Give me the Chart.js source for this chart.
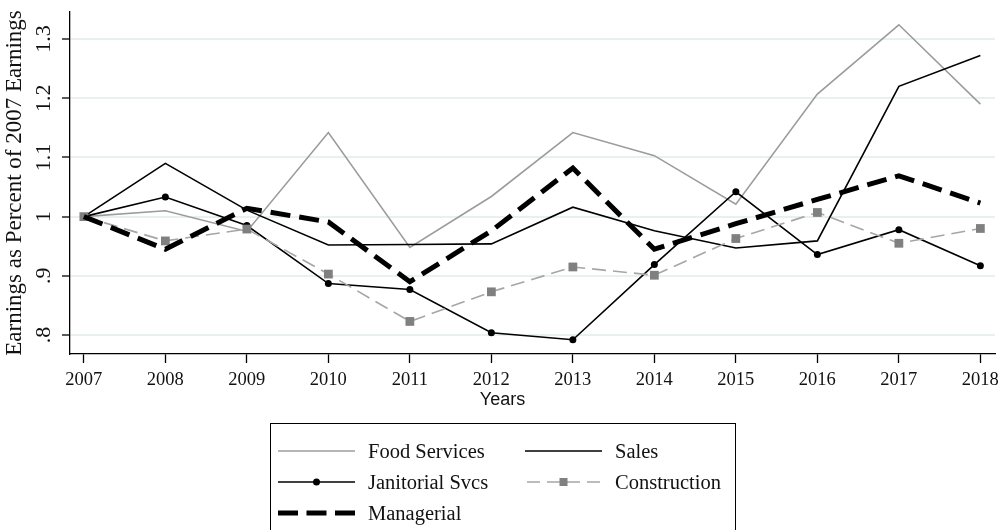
<!DOCTYPE html>
<html>
<head>
<meta charset="utf-8">
<script src="https://cdn.jsdelivr.net/npm/chart.js@4.4.1/dist/chart.umd.min.js"></script>
<style>
  html, body { margin: 0; padding: 0; background: #fff; overflow: hidden; }
  #wrap { position: relative; width: 1005px; height: 530px; }
  #legend {
    position: absolute; left: 270px; top: 423px; width: 466px; height: 130px;
    border: 1px solid #000; box-sizing: border-box;
    font-family: 'Liberation Serif', 'Times New Roman', serif; font-size: 20.5px; color: #111;
  }
  .item { position: absolute; height: 30px; display: flex; align-items: center; }
  .item svg { margin-right: 13px; }
</style>
</head>
<body>
<div id="wrap">
  <canvas id="chart" width="1005" height="530"></canvas>
  <div id="legend"></div>
</div>
<script>
// data
const years = [2007, 2008, 2009, 2010, 2011, 2012, 2013, 2014, 2015, 2016, 2017, 2018];
const foodServices = [1.000, 1.010, 0.975, 1.142, 0.948, 1.034, 1.142, 1.103, 1.021, 1.207, 1.324, 1.190];
const sales        = [1.000, 1.090, 1.011, 0.952, 0.953, 0.954, 1.016, 0.976, 0.947, 0.959, 1.220, 1.272];
const janitorial   = [1.000, 1.033, 0.985, 0.887, 0.877, 0.804, 0.792, 0.919, 1.042, 0.936, 0.978, 0.917];
const construction = [1.000, 0.959, 0.979, 0.903, 0.823, 0.873, 0.915, 0.901, 0.963, 1.007, 0.955, 0.980];
const managerial   = [1.000, 0.945, 1.014, 0.991, 0.890, 0.976, 1.082, 0.945, 0.988, 1.029, 1.069, 1.023];
const yTicks = [0.8, 0.9, 1, 1.1, 1.2, 1.3];
const yTickLabels = ['.8', '.9', '1', '1.1', '1.2', '1.3'];

const SERIF = "'Liberation Serif', 'Times New Roman', serif";
const SANS = "'Liberation Sans', Arial, sans-serif";

const toPoints = vals => vals.map((v, i) => ({ x: years[i], y: v }));

// rotated y tick labels and the centred x title
const extras = {
  id: 'extras',
  afterDraw(chart) {
    const ctx = chart.ctx;
    const ys = chart.scales.y;
    ctx.save();
    ctx.fillStyle = '#111';
    ctx.font = '22px ' + SERIF;
    ctx.textAlign = 'center';
    ctx.textBaseline = 'alphabetic';
    yTicks.forEach((v, i) => {
      ctx.save();
      ctx.translate(50, ys.getPixelForValue(v));
      ctx.rotate(-Math.PI / 2);
      ctx.fillText(yTickLabels[i], 0, 0);
      ctx.restore();
    });
    ctx.font = '18px ' + SANS;
    ctx.textBaseline = 'middle';
    ctx.fillText('Years', 502.5, 400);
    ctx.restore();
  }
};

new Chart(document.getElementById('chart'), {
  type: 'line',
  data: {
    datasets: [
      { label: 'Food Services', data: toPoints(foodServices), borderColor: '#9c9c9c', borderWidth: 1.6, pointRadius: 0, order: 5 },
      { label: 'Sales', data: toPoints(sales), borderColor: '#000', borderWidth: 1.6, pointRadius: 0, order: 4 },
      { label: 'Janitorial Svcs', data: toPoints(janitorial), borderColor: '#000', borderWidth: 1.6,
        pointRadius: 3.5, pointBackgroundColor: '#000', pointBorderWidth: 0, order: 3 },
      { label: 'Construction', data: toPoints(construction), borderColor: '#a6a6a6', borderWidth: 1.6, borderDash: [14, 7],
        pointStyle: 'rect', pointRadius: 6.2, pointBackgroundColor: '#808080', pointBorderWidth: 0, order: 2 },
      { label: 'Managerial', data: toPoints(managerial), borderColor: '#000', borderWidth: 5, borderDash: [20, 9],
        pointRadius: 0, order: 1 }
    ]
  },
  options: {
    responsive: false,
    animation: false,
    devicePixelRatio: 1,
    layout: { padding: { top: 12, right: 8, left: 0, bottom: 119 } },
    elements: { line: { tension: 0, fill: false } },
    plugins: { legend: { display: false }, tooltip: { enabled: false } },
    scales: {
      x: {
        type: 'linear', min: 2006.83, max: 2018.18,
        afterBuildTicks: s => { s.ticks = years.map(v => ({ value: v })); },
        afterFit: s => { s.height = 57; },
        grid: { drawOnChartArea: false, drawTicks: true, tickLength: 9, tickColor: '#000', tickWidth: 1.3 },
        border: { display: true, color: '#000', width: 1.3 },
        ticks: { autoSkip: false, maxRotation: 0, color: '#111', padding: 6,
                 font: { family: SERIF, size: 18.5 }, callback: v => String(v) }
      },
      y: {
        min: 0.768, max: 1.3456,
        afterBuildTicks: s => { s.ticks = yTicks.map(v => ({ value: v })); },
        afterFit: s => { s.width = 70; },
        grid: { color: '#e8f0f2', lineWidth: 2, drawTicks: true, tickLength: 8, tickColor: '#000', tickWidth: 1.3 },
        border: { display: true, color: '#000', width: 1.3 },
        ticks: { display: false },
        title: { display: true, text: 'Earnings as Percent of 2007 Earnings', color: '#111',
                 font: { family: SERIF, size: 23 }, padding: { top: 1.5, bottom: 0 } }
      }
    }
  },
  plugins: [extras]
});

// legend as html, two columns like the reference
const legendItems = [
  { label: 'Food Services', col: 0, row: 0, svg: '<line x1="0" y1="10" x2="77" y2="10" stroke="#9c9c9c" stroke-width="1.6"/>' },
  { label: 'Sales', col: 1, row: 0, svg: '<line x1="0" y1="10" x2="77" y2="10" stroke="#000" stroke-width="1.6"/>' },
  { label: 'Janitorial Svcs', col: 0, row: 1, svg: '<line x1="0" y1="10" x2="77" y2="10" stroke="#000" stroke-width="1.6"/><circle cx="38.5" cy="10" r="3.5" fill="#000"/>' },
  { label: 'Construction', col: 1, row: 1, svg: '<line x1="0" y1="10" x2="77" y2="10" stroke="#a6a6a6" stroke-width="1.6" stroke-dasharray="13 7" stroke-dashoffset="-2"/><rect x="34.5" y="6" width="8" height="8" fill="#808080"/>' },
  { label: 'Managerial', col: 0, row: 2, svg: '<line x1="0" y1="10" x2="77" y2="10" stroke="#000" stroke-width="5" stroke-dasharray="20 8.5"/>' }
];
document.getElementById('legend').innerHTML = legendItems.map(it => `
  <div class="item" style="left:${it.col ? 254 : 7}px; top:${12 + it.row * 31}px">
    <svg width="77" height="20">${it.svg}</svg><span>${it.label}</span>
  </div>`).join('');
</script>
</body>
</html>
